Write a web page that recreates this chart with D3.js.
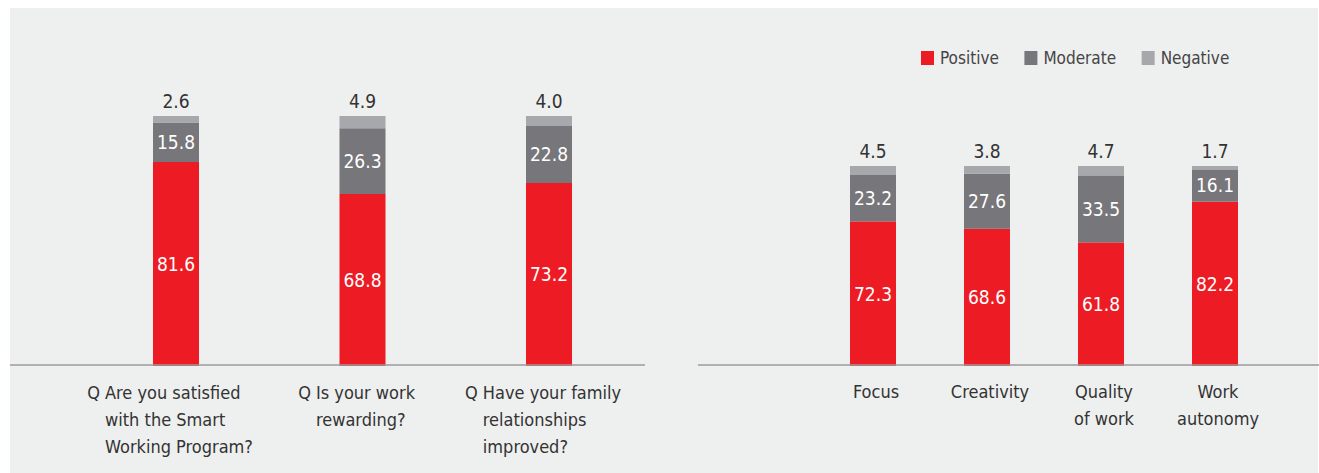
<!DOCTYPE html>
<html>
<head>
<meta charset="utf-8">
<script src="https://cdn.jsdelivr.net/npm/d3@7"></script>
<style>
  html, body { margin: 0; padding: 0; background: #ffffff; }
  svg { display: block; }
  text { font-family: "DejaVu Sans Condensed", "DejaVu Sans", sans-serif; font-stretch: condensed; }
</style>
</head>
<body>
<svg id="chart" width="1319" height="473"></svg>
<script>
// Survey questions (left panel) and work dimensions (right panel)
const questionPrefix = "Q";
const questions = [
  ["Are you satisfied", "with the Smart", "Working Program?"],
  ["Is your work", "rewarding?"],
  ["Have your family", "relationships", "improved?"]
];
const questionPositive = [81.6, 68.8, 73.2];
const questionModerate = [15.8, 26.3, 22.8];
const questionNegative = [2.6, 4.9, 4.0];

const dimensions = [["Focus"], ["Creativity"], ["Quality", "of work"], ["Work", "autonomy"]];
const dimensionPositive = [72.3, 68.6, 61.8, 82.2];
const dimensionModerate = [23.2, 27.6, 33.5, 16.1];
const dimensionNegative = [4.5, 3.8, 4.7, 1.7];

const seriesNames = ["Positive", "Moderate", "Negative"];
const seriesColors = ["#ed1c24", "#76767b", "#a7a8ab"];

const svg = d3.select("#chart");
const W = 1319, H = 473;
const baseY = 366;
const axisY = 365;
const barW = 46;
const textColor = "#333333";

// panel background
svg.append("rect").attr("x", 10).attr("y", 8).attr("width", W - 11).attr("height", H - 8)
  .attr("fill", "#eeefef");

const color = d3.scaleOrdinal().domain(seriesNames).range(seriesColors);

function drawPanel(opts) {
  const keys = opts.labels.map((d, i) => "c" + i);
  const rows = keys.map((k, i) => ({
    key: k,
    Positive: opts.pos[i],
    Moderate: opts.mod[i],
    Negative: opts.neg[i]
  }));
  const x = d3.scalePoint().domain(keys).range(opts.xRange);
  const y = d3.scaleLinear().domain([0, 100]).range([baseY, opts.yTop]);
  const stacked = d3.stack().keys(seriesNames)(rows);

  const g = svg.append("g");
  g.selectAll("g.series").data(stacked).join("g")
    .attr("class", "series")
    .attr("fill", s => color(s.key))
    .selectAll("rect").data(s => s.map(v => ({ v, key: v.data.key })))
    .join("rect")
    .attr("x", d => x(d.key) - barW / 2)
    .attr("width", barW)
    .attr("y", d => y(d.v[1]))
    .attr("height", d => y(d.v[0]) - y(d.v[1]));

  // values inside the positive and moderate segments
  stacked.slice(0, 2).forEach(s => {
    g.selectAll(null).data(s).join("text")
      .attr("x", d => x(d.data.key))
      .attr("y", d => (y(d[0]) + y(d[1])) / 2)
      .attr("dy", "0.36em")
      .attr("text-anchor", "middle")
      .attr("fill", "#ffffff")
      .attr("font-size", 19)
      .text(d => d3.format(".1f")(d[1] - d[0]));
  });
  // negative values sit above each bar
  const top = stacked[2];
  g.selectAll(null).data(top).join("text")
    .attr("x", d => x(d.data.key))
    .attr("y", d => y(d[1]) - 8)
    .attr("text-anchor", "middle")
    .attr("fill", textColor)
    .attr("font-size", 19)
    .text(d => d3.format(".1f")(d[1] - d[0]));

  // baseline
  g.append("line")
    .attr("x1", opts.axisX[0]).attr("x2", opts.axisX[1])
    .attr("y1", axisY).attr("y2", axisY)
    .attr("stroke", "#9b9b9b").attr("stroke-width", 1.5);

  // category labels
  keys.forEach((k, i) => {
    const lines = opts.labels[i];
    const lg = g.append("g");
    const t = lg.append("text")
      .attr("fill", textColor)
      .attr("font-size", 18)
      .attr("y", opts.labelY);
    lines.forEach((ln, j) => {
      t.append("tspan").attr("x", 0).attr("dy", j === 0 ? 0 : 27).text(ln);
    });
    let widest = 0;
    t.selectAll("tspan").each(function () {
      widest = Math.max(widest, this.getComputedTextLength());
    });
    if (opts.prefix) {
      t.attr("text-anchor", "start");
      lg.append("text")
        .attr("fill", textColor)
        .attr("font-size", 18)
        .attr("x", -5)
        .attr("y", opts.labelY)
        .attr("text-anchor", "end")
        .text(opts.prefix);
      lg.attr("transform", `translate(${x(k) + 3 - widest / 2},0)`);
    } else {
      t.attr("text-anchor", "middle");
      t.selectAll("tspan").attr("x", 0);
      lg.attr("transform", `translate(${x(k) + 3},0)`);
    }
  });
}

drawPanel({
  labels: questions, prefix: questionPrefix,
  pos: questionPositive, mod: questionModerate, neg: questionNegative,
  xRange: [176, 549], yTop: 116, axisX: [10, 645], labelY: 399
});

drawPanel({
  labels: dimensions, prefix: null,
  pos: dimensionPositive, mod: dimensionModerate, neg: dimensionNegative,
  xRange: [873, 1215], yTop: 166, axisX: [698, W], labelY: 398
});

// legend
const legend = svg.append("g").attr("transform", "translate(921,0)");
let lx = 0;
seriesNames.forEach(name => {
  legend.append("rect").attr("x", lx).attr("y", 51).attr("width", 13).attr("height", 14)
    .attr("fill", color(name));
  const t = legend.append("text")
    .attr("x", lx + 19).attr("y", 64)
    .attr("fill", "#444444")
    .attr("font-size", 17)
    .text(name);
  lx += 19 + t.node().getComputedTextLength() + 25.5;
});
</script>
</body>
</html>
